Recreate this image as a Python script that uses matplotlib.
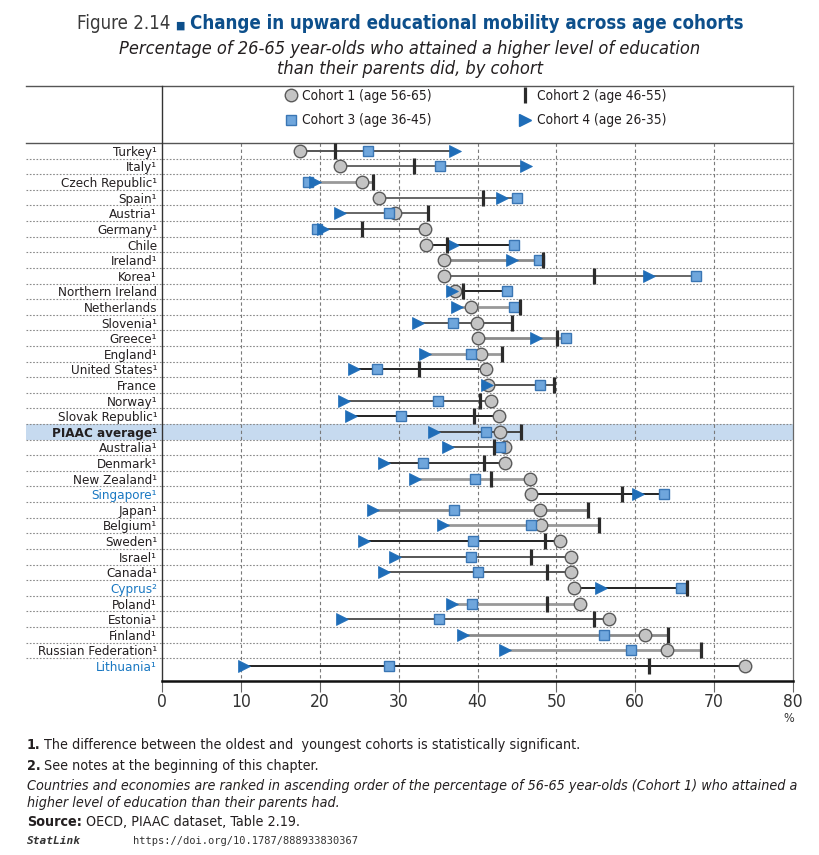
import matplotlib
matplotlib.use('Agg')
import matplotlib.pyplot as plt
from matplotlib.lines import Line2D

# ---------------- data ----------------
countries = ['Turkey', 'Italy', 'Czech Republic', 'Spain', 'Austria', 'Germany', 'Chile',
             'Ireland', 'Korea', 'Northern Ireland', 'Netherlands', 'Slovenia', 'Greece',
             'England', 'United States', 'France', 'Norway', 'Slovak Republic',
             'PIAAC average', 'Australia', 'Denmark', 'New Zealand', 'Singapore', 'Japan',
             'Belgium', 'Sweden', 'Israel', 'Canada', 'Cyprus', 'Poland', 'Estonia',
             'Finland', 'Russian Federation', 'Lithuania']
notes = ['¹', '¹', '¹', '¹', '¹', '¹', '', '¹', '¹', '', '', '¹', '¹', '¹', '¹', '',
         '¹', '¹', '¹', '¹', '¹', '¹', '¹', '¹', '¹', '¹', '¹', '¹', '²', '¹', '¹', '¹',
         '¹', '¹']
cohort1 = [17.5, 22.6, 25.4, 27.5, 29.6, 33.3, 33.5, 35.7, 35.8, 37.2, 39.2, 39.9, 40.1,
           40.5, 41.1, 41.3, 41.7, 42.7, 42.9, 43.5, 43.5, 46.6, 46.8, 47.9, 48.1, 50.4,
           51.9, 51.9, 52.2, 53.0, 56.7, 61.2, 64.0, 73.9]
cohort2 = [21.9, 31.9, 26.7, 40.7, 33.7, 25.3, 36.1, 48.3, 54.8, 38.2, 45.4, 44.4, 50.1,
           43.1, 32.6, 49.7, 40.3, 39.5, 45.5, 42.1, 40.8, 41.7, 58.3, 54.0, 55.4, 48.6,
           46.8, 48.8, 66.5, 48.8, 54.8, 64.2, 68.3, 61.8]
cohort3 = [26.1, 35.3, 18.5, 45.0, 28.8, 19.6, 44.6, 47.8, 67.7, 43.8, 44.6, 36.9, 51.2,
           39.2, 27.2, 47.9, 35.0, 30.3, 41.1, 42.9, 33.1, 39.7, 63.7, 37.0, 46.8, 39.4,
           39.2, 40.1, 65.8, 39.3, 35.1, 56.1, 59.5, 28.8]
cohort4 = [37.1, 46.1, 19.4, 43.1, 22.6, 20.4, 36.9, 44.4, 61.7, 36.8, 37.4, 32.5, 47.4,
           33.3, 24.3, 41.2, 23.1, 23.9, 34.5, 36.2, 28.1, 32.1, 60.3, 26.7, 35.6, 25.6,
           29.6, 28.2, 55.6, 36.8, 22.8, 38.1, 43.5, 10.4]
series_labels = ['Cohort 1 (age 56-65)', 'Cohort 2 (age 46-55)',
                 'Cohort 3 (age 36-45)', 'Cohort 4 (age 26-35)']
highlight = 'PIAAC average'
blue_labels = ['Singapore', 'Cyprus', 'Lithuania']
x_ticks = [0, 10, 20, 30, 40, 50, 60, 70, 80]

# range-line shading per row (style only)
line_shades = ['#555555', '#666666', '#999999', '#666666', '#666666', '#555555', '#222222',
               '#8a8a8a', '#666666', '#222222', '#999999', '#555555', '#8a8a8a', '#999999',
               '#222222', '#555555', '#555555', '#222222', '#444444', '#555555', '#333333',
               '#999999', '#222222', '#8a8a8a', '#999999', '#222222', '#555555', '#555555',
               '#222222', '#999999', '#555555', '#8a8a8a', '#999999', '#222222']

# ---------------- style ----------------
FONT = ['Liberation Sans Narrow', 'DejaVu Sans']
plt.rcParams['font.family'] = FONT
plt.rcParams['font.stretch'] = 'condensed'
TITLE_BLUE = '#0d4f8b'
TXT = '#231f20'
C_CIRC_F, C_CIRC_E = '#c4c4c4', '#5a5a5a'
C_SQ_F, C_SQ_E = '#6fa6dc', '#3a76b4'
C_TRI = '#1f6db8'
C_BAR = '#2b2b2b'
C_LBLUE = '#1a78c2'
C_BAND = '#c6daef'

W, H = 819, 855
fig = plt.figure(figsize=(W / 100, H / 100), dpi=100)
L, R, T, B = 162, 793, 86, 681
ax = fig.add_axes([L / W, 1 - B / H, (R - L) / W, (B - T) / H])

n = len(countries)
rows = list(range(n))
row_h = 15.6
ytop = -0.5 - (143 - 86) / row_h
ybot = (n - 1) + (B - 666) / row_h
ax.set_xlim(0, 80)
ax.set_ylim(ybot, ytop)
left_ext = (26 - L) / (R - L)

# highlight band
hi = countries.index(highlight)
ax.axhspan(hi - 0.5, hi + 0.5, xmin=left_ext, xmax=1, color=C_BAND, lw=0,
           clip_on=False, zorder=0)

# horizontal separators
for k in range(n - 1):
    ax.axhline(k + 0.5, xmin=left_ext, xmax=1, color='#8a8a8a', lw=0.8,
               ls=(0, (1.5, 1.5)), clip_on=False, zorder=1)
ax.axhline(-0.5, xmin=left_ext, xmax=1, color='#555555', lw=1.0, clip_on=False, zorder=2)
ax.axhline(ytop, xmin=left_ext, xmax=1, color='#555555', lw=1.0, clip_on=False, zorder=2)

# vertical grid
ax.vlines(x_ticks[1:-1], -0.5, ybot, colors='#7a7a7a', lw=0.8, linestyles=(0, (3, 2.5)),
          zorder=1)

# range lines
for i in rows:
    vals = [cohort1[i], cohort2[i], cohort3[i], cohort4[i]]
    shade = line_shades[i]
    lw = 2.0 if shade in ('#999999', '#8a8a8a') else 1.4
    ax.plot([min(vals), max(vals)], [i, i], color=shade, lw=lw, zorder=3,
            solid_capstyle='butt')

# markers
ax.plot(cohort1, rows, 'o', ms=9, mfc=C_CIRC_F, mec=C_CIRC_E, mew=1.0, ls='none', zorder=4)
ax.plot(cohort3, rows, 's', ms=7.3, mfc=C_SQ_F, mec=C_SQ_E, mew=1.0, ls='none', zorder=5)
ax.plot(cohort4, rows, '>', ms=8, mfc=C_TRI, mec=C_TRI, mew=0.5, ls='none', zorder=6)
ax.plot(cohort2, rows, '|', ms=11, mec=C_BAR, mew=2.3, ls='none', zorder=7)

# axes styling
ax.spines['top'].set_visible(False)
ax.spines['bottom'].set_linewidth(1.8)
ax.spines['bottom'].set_color('#111111')
ax.spines['left'].set_color('#333333')
ax.spines['right'].set_color('#666666')
ax.spines['left'].set_linewidth(1.0)
ax.spines['right'].set_linewidth(0.9)

ax.set_xticks(x_ticks)
ax.set_xticklabels([str(v) for v in x_ticks])
ax.tick_params(axis='x', length=8, width=0.8, color='#666666', direction='out', pad=0.5,
               labelsize=12.5, labelcolor='#333333')
ax.set_yticks(rows)
ax.set_yticklabels([c + nt for c, nt in zip(countries, notes)])
ax.tick_params(axis='y', length=0, pad=3.5, labelsize=10.5)
for lab, c in zip(ax.get_yticklabels(), countries):
    lab.set_color(C_LBLUE if c in blue_labels else TXT)
    if c == highlight:
        lab.set_fontweight('bold')

fig.text(789 / W, 1 - 718 / H, '%', ha='center', va='center', fontsize=9, color='#333333')

# ---------------- text helpers ----------------
def renderer():
    fig.canvas.draw()
    return fig.canvas.get_renderer()

def width_of(t):
    return t.get_window_extent(renderer()).width

def chain(pieces, x_px, y_px, align='left', gaps=None, target=None):
    texts = [fig.text(0, 1 - y_px / H, s, ha='left', va='baseline', **kw) for s, kw in pieces]
    gaps = gaps or [0] * len(texts)
    r = renderer()
    widths = [t.get_window_extent(r).width for t in texts]
    if target:
        k = (target - sum(gaps[:-1])) / sum(widths)
        for t in texts:
            t.set_fontsize(t.get_fontsize() * k)
        r = renderer()
        widths = [t.get_window_extent(r).width for t in texts]
    total = sum(widths) + sum(gaps[:-1])
    x = x_px - total / 2 if align == 'center' else x_px
    for t, w, g in zip(texts, widths, gaps):
        t.set_x(x / W)
        x += w + g
    return texts

def fit(t, target):
    t.set_fontsize(t.get_fontsize() * target / width_of(t))

# fit country labels: "Russian Federation¹" spans ~121 px in reference
r = renderer()
ref_lab = ax.get_yticklabels()[countries.index('Russian Federation')]
k_lab = 121 / ref_lab.get_window_extent(r).width
ax.tick_params(axis='y', labelsize=10.5 * k_lab)

# legend
h1 = Line2D([], [], marker='o', ls='none', ms=9, mfc=C_CIRC_F, mec=C_CIRC_E, mew=1.0)
h2 = Line2D([], [], marker='|', ls='none', ms=11, mec=C_BAR, mew=2.3)
h3 = Line2D([], [], marker='s', ls='none', ms=7.3, mfc=C_SQ_F, mec=C_SQ_E, mew=1.0)
h4 = Line2D([], [], marker='>', ls='none', ms=8, mfc=C_TRI, mec=C_TRI)
probe = fig.text(0, 0, series_labels[0], fontsize=10.5)
leg_fs = 10.5 * 131 / width_of(probe)
probe.remove()
leg = ax.legend(handles=[h1, h3, h2, h4],
                labels=[series_labels[0], series_labels[2], series_labels[1], series_labels[3]],
                ncol=2, loc='upper left', bbox_to_anchor=((285 - L) / (R - L), 1 - (89 - T) / (B - T)),
                frameon=False, fontsize=leg_fs, handlelength=0.8, handletextpad=0.45,
                columnspacing=6.4, labelspacing=0.75, borderaxespad=0, borderpad=0)
for t in leg.get_texts():
    t.set_color(TXT)

# title
chain([('Figure 2.14', dict(fontsize=15, color='#3a3a3a')),
       ('■', dict(fontsize=9, color=TITLE_BLUE, family=['DejaVu Sans'])),
       ('Change in upward educational mobility across age cohorts',
        dict(fontsize=15, color=TITLE_BLUE, fontweight='bold'))],
      410, 29, align='center', gaps=[5, 5, 0], target=670)
s1 = fig.text(410 / W, 1 - 54 / H,
              'Percentage of 26-65 year-olds who attained a higher level of education',
              ha='center', va='baseline', fontsize=13.5, style='italic', color=TXT)
fit(s1, 585)
fig.text(410 / W, 1 - 74 / H, 'than their parents did, by cohort',
         ha='center', va='baseline', fontsize=s1.get_fontsize(), style='italic', color=TXT)

# footnotes
FN = 10
l1 = fig.text(27 / W, 1 - 790 / H,
              'Countries and economies are ranked in ascending order of the percentage of 56-65 year-olds (Cohort 1) who attained a',
              ha='left', va='baseline', fontsize=FN, style='italic', color=TXT)
fit(l1, 766)
FN = l1.get_fontsize()
fig.text(27 / W, 1 - 807 / H, 'higher level of education than their parents had.',
         ha='left', va='baseline', fontsize=FN, style='italic', color=TXT)
chain([('1.', dict(fontsize=FN, fontweight='bold', color=TXT)),
       ('The difference between the oldest and  youngest cohorts is statistically significant.',
        dict(fontsize=FN, color=TXT))], 27, 749, gaps=[3, 0])
chain([('2.', dict(fontsize=FN, fontweight='bold', color=TXT)),
       ('See notes at the beginning of this chapter.', dict(fontsize=FN, color=TXT))],
      27, 770, gaps=[3, 0])
chain([('Source:', dict(fontsize=FN, fontweight='bold', color=TXT)),
       ('OECD, PIAAC dataset, Table 2.19.', dict(fontsize=FN, color=TXT))],
      27, 826, gaps=[4, 0])
chain([('StatLink', dict(fontsize=8, style='italic', fontweight='bold', color='#333333',
                         family=['DejaVu Sans Mono'])),
       ('https://doi.org/10.1787/888933830367', dict(fontsize=7.5, color='#333333',
                                                     family=['DejaVu Sans Mono']))],
      27, 844, gaps=[52, 0])

fig.savefig('out.png', dpi=100)
